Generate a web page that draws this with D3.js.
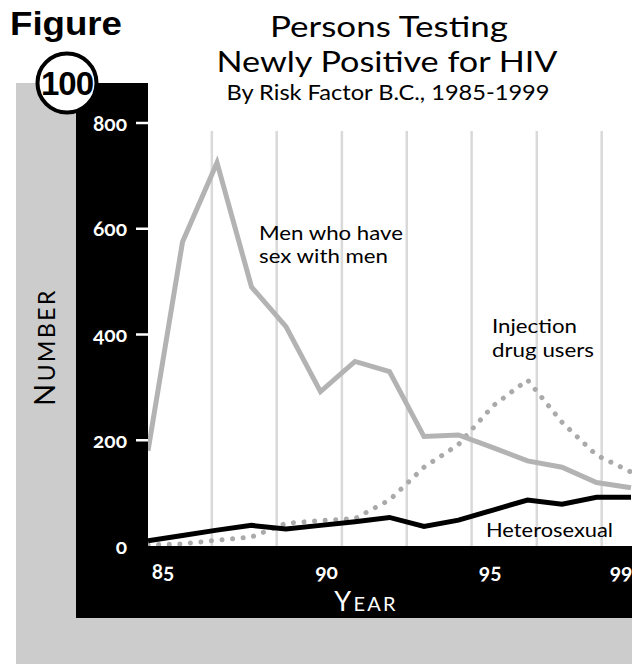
<!DOCTYPE html>
<html>
<head>
<meta charset="utf-8">
<script src="https://cdn.jsdelivr.net/npm/d3@7"></script>
<style>
  html, body { margin: 0; padding: 0; background: #fff; }
  svg { display: block; }
  .num { font-family: Lato, "Noto Sans", sans-serif; font-feature-settings: "onum" 1; }
</style>
</head>
<body>
<svg id="chart" width="632" height="664"></svg>
<script>
// ---- data ----
const years = [1985, 1986, 1987, 1988, 1989, 1990, 1991, 1992, 1993, 1994, 1995, 1996, 1997, 1998, 1999];
const msm    = [180, 575, 725, 490, 415, 292, 349, 330, 207, 210, 186, 161, 149, 120, 110];
const idu    = [2, 4, 11, 17, 43, 48, 52, 87, 149, 192, 265, 314, 234, 172, 140];
const hetero = [10, 20, 30, 39, 32, 39, 46, 54, 37, 49, 68, 87, 79, 92, 92];
const yTicks = [0, 200, 400, 600, 800];
const xTicks = [1985, 1990, 1995, 1999];
const xTickLabels = ["85", "90", "95", "99"];
const gridYears = [1986.85, 1988.73, 1990.62, 1992.5, 1994.38, 1996.27, 1998.15];

const svg = d3.select("#chart");
const W = 632, H = 664;
const plot = { left: 148, right: 632, top: 131, bottom: 546 };
const textFont = "Lato, 'Open Sans', sans-serif";

const x = d3.scaleLinear().domain([1985, 1999]).range([148, 631]);
const xLab = d3.scaleLinear().domain([1985, 1999]).range([163, 621]);
const y = d3.scaleLinear().domain([0, 800]).range([546, 123]);

// ---- backgrounds ----
svg.append("rect").attr("x", 16).attr("y", 83).attr("width", W - 16).attr("height", H - 83).attr("fill", "#cccccc");
svg.append("rect").attr("x", 76).attr("y", 83).attr("width", W - 76).attr("height", 618 - 83).attr("fill", "#000");
svg.append("rect").attr("x", plot.left).attr("y", 0).attr("width", W - plot.left).attr("height", plot.bottom).attr("fill", "#fff");

// ---- gridlines ----
svg.append("g").selectAll("line").data(gridYears).join("line")
  .attr("x1", d => x(d)).attr("x2", d => x(d))
  .attr("y1", plot.top).attr("y2", plot.bottom)
  .attr("stroke", "#d9d9d9").attr("stroke-width", 2.5);

// ---- y axis ----
const yAxis = svg.append("g");
yAxis.selectAll("line").data(yTicks.filter(d => d > 0)).join("line")
  .attr("x1", 136).attr("x2", plot.left)
  .attr("y1", d => y(d)).attr("y2", d => y(d))
  .attr("stroke", "#fff").attr("stroke-width", 2.5);
yAxis.selectAll("text").data(yTicks).join("text")
  .attr("class", "num")
  .attr("x", 127).attr("y", d => y(d))
  .attr("dy", "0.36em")
  .attr("text-anchor", "end")
  .attr("fill", "#fff").attr("font-size", 21).attr("font-weight", 700)
  .text(d => d);

// ---- x axis labels ----
svg.append("g").selectAll("text").data(xTicks).join("text")
  .attr("class", "num")
  .attr("x", d => xLab(d)).attr("y", 579)
  .attr("text-anchor", "middle")
  .attr("fill", "#fff").attr("font-size", 21).attr("font-weight", 700)
  .text((d, i) => xTickLabels[i]);

// ---- axis titles (small caps) ----
const yt = svg.append("text")
  .attr("transform", "translate(55,347) rotate(-90)")
  .attr("text-anchor", "middle")
  .attr("font-family", textFont).attr("fill", "#000")
  .attr("letter-spacing", 2.5);
yt.append("tspan").attr("font-size", 29).text("N");
yt.append("tspan").attr("font-size", 23).text("UMBER");

const xt = svg.append("text")
  .attr("x", 366).attr("y", 611)
  .attr("text-anchor", "middle")
  .attr("font-family", textFont).attr("fill", "#fff")
  .attr("letter-spacing", 2.2);
xt.append("tspan").attr("font-size", 27).text("Y");
xt.append("tspan").attr("font-size", 20).text("EAR");

// ---- lines ----
const defs = svg.append("defs");
defs.append("clipPath").attr("id", "plotClip").append("rect")
  .attr("x", plot.left).attr("y", 0).attr("width", W - plot.left).attr("height", plot.bottom);

const lineGen = d3.line().x((d, i) => x(years[i])).y(d => y(d)).curve(d3.curveLinear);
const lines = svg.append("g").attr("clip-path", "url(#plotClip)");

lines.append("path").datum(idu)
  .attr("d", lineGen).attr("fill", "none")
  .attr("stroke", "#aaaaaa").attr("stroke-width", 5)
  .attr("stroke-linecap", "round").attr("stroke-dasharray", "0.1 10.5");
lines.append("path").datum(msm)
  .attr("d", lineGen).attr("fill", "none")
  .attr("stroke", "#b3b3b3").attr("stroke-width", 5).attr("stroke-linejoin", "miter");
lines.append("path").datum(hetero)
  .attr("d", lineGen).attr("fill", "none")
  .attr("stroke", "#000").attr("stroke-width", 5).attr("stroke-linejoin", "miter");

// ---- annotations ----
const ann = svg.append("g").attr("font-family", textFont).attr("font-size", 18.8).attr("fill", "#000");
const annText = (tx, ty, len, s) => ann.append("text").attr("x", tx).attr("y", ty)
  .attr("textLength", len).attr("lengthAdjust", "spacingAndGlyphs").text(s);
annText(259, 240, 144, "Men who have");
annText(259, 263, 129, "sex with men");
annText(492, 333, 85, "Injection");
annText(492, 357, 102, "drug users");
annText(486, 537, 127, "Heterosexual");

// ---- title ----
const title = svg.append("g").attr("font-family", textFont).attr("fill", "#000").attr("text-anchor", "middle");
title.append("text").attr("x", 389).attr("y", 37).attr("font-size", 29)
  .attr("textLength", 238).attr("lengthAdjust", "spacingAndGlyphs").text("Persons Testing");
title.append("text").attr("x", 387).attr("y", 72).attr("font-size", 29)
  .attr("textLength", 341).attr("lengthAdjust", "spacingAndGlyphs").text("Newly Positive for HIV");
title.append("text").attr("x", 388).attr("y", 100).attr("font-size", 20.5)
  .attr("textLength", 323).attr("lengthAdjust", "spacingAndGlyphs").text("By Risk Factor B.C., 1985-1999");

// ---- figure badge ----
svg.append("text").attr("x", 10).attr("y", 35)
  .attr("font-family", "'Liberation Sans', Arial, sans-serif").attr("font-weight", 700)
  .attr("font-size", 34).attr("textLength", 112).attr("lengthAdjust", "spacingAndGlyphs")
  .attr("fill", "#000").text("Figure");
svg.append("circle").attr("cx", 67).attr("cy", 83).attr("r", 29.5)
  .attr("fill", "#fff").attr("stroke", "#000").attr("stroke-width", 4);
svg.append("text").attr("x", 67).attr("y", 95)
  .attr("text-anchor", "middle")
  .attr("font-family", "'Liberation Sans Narrow', 'Liberation Sans', Arial, sans-serif").attr("font-weight", 700)
  .attr("font-size", 33).attr("letter-spacing", -1).attr("fill", "#000").text("100");
</script>
</body>
</html>
